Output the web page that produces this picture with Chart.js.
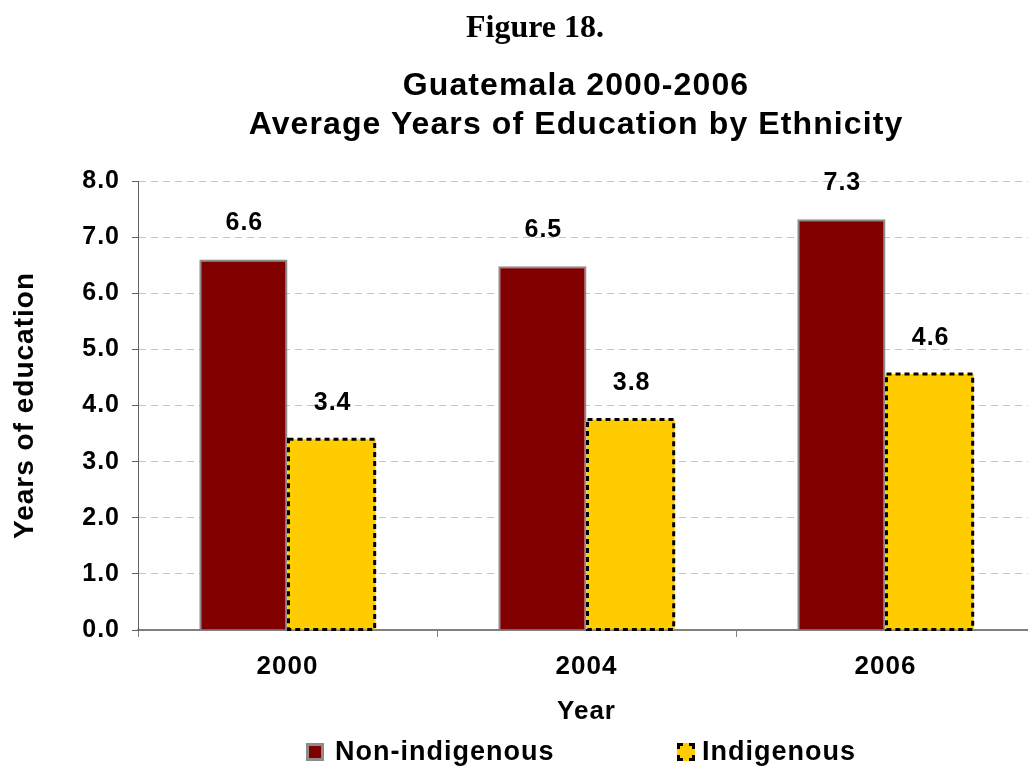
<!DOCTYPE html>
<html>
<head>
<meta charset="utf-8">
<script src="https://cdn.jsdelivr.net/npm/chart.js@4.4.1/dist/chart.umd.min.js"></script>
<style>
  html, body { margin: 0; padding: 0; background: #fff; overflow: hidden; }
  .wrap { position: relative; width: 1028px; height: 767px; overflow: hidden; }
  .wrap canvas { position: absolute; left: 0; top: 0; }
  .fig { position: absolute; left: 0; width: 1070px; top: 8px; text-align: center;
         font: bold 32px "Liberation Serif", "Times New Roman", serif; color: #000; line-height: 36px; }
  .ttl { position: absolute; left: 0; width: 1152px; text-align: center; line-height: 34px;
         font: bold 32px "Liberation Sans", Arial, sans-serif; letter-spacing: 1.1px; color: #000; }
  .leg { position: absolute; top: 736px; height: 30px; line-height: 30px;
         font: bold 27px "Liberation Sans", Arial, sans-serif; letter-spacing: 1px; color: #000; }
  .leg i { position: absolute; top: 7px; width: 12px; height: 12px; box-sizing: content-box; }
  .leg span { position: absolute; white-space: nowrap; }
</style>
</head>
<body>
<div class="wrap">
  <canvas id="eduChart"></canvas>
  <div class="fig">Figure 18.</div>
  <div class="ttl" style="top:66px">Guatemala 2000-2006</div>
  <div class="ttl" style="top:105px">Average Years of Education by Ethnicity</div>
  <div class="leg" style="left:306px">
    <i style="left:0; background:#800000; border:3px solid #8c8c8c;"></i>
    <span style="left:29px">Non-indigenous</span>
  </div>
  <div class="leg" style="left:677px">
    <i style="left:0; background:#FFCC00; border:3px dashed #000;"></i>
    <span style="left:25px">Indigenous</span>
  </div>
</div>
<script>
// data
const years = ["2000", "2004", "2006"];
const seriesNames = ["Non-indigenous", "Indigenous"];
const nonIndigenous = [6.6, 6.48, 7.32];
const indigenous = [3.4, 3.75, 4.56];
const yTicks = [0, 1, 2, 3, 4, 5, 6, 7, 8];

const FONT = '"Liberation Sans", Arial, sans-serif';

// the original text is spaced out a little
const spacing = {
  id: "spacing",
  beforeUpdate(chart) { chart.ctx.letterSpacing = "1px"; },
  beforeDraw(chart) { chart.ctx.letterSpacing = "1px"; },
};

// dashed outline for the yellow bars + value labels on top
const barExtras = {
  id: "barExtras",
  afterDatasetsDraw(chart) {
    const ctx = chart.ctx;
    ctx.save();
    ctx.strokeStyle = "#000";
    ctx.lineWidth = 3;
    ctx.setLineDash([5, 4]);
    chart.getDatasetMeta(1).data.forEach((bar) => {
      const p = bar.getProps(["x", "y", "base", "width"], true);
      ctx.strokeRect(p.x - p.width / 2 + 1, p.y, p.width - 2, p.base - p.y);
    });
    ctx.setLineDash([]);
    ctx.fillStyle = "#000";
    ctx.font = "bold 25px " + FONT;
    ctx.textAlign = "center";
    ctx.textBaseline = "middle";
    chart.data.datasets.forEach((ds, i) => {
      chart.getDatasetMeta(i).data.forEach((bar, j) => {
        const p = bar.getProps(["x", "y"], true);
        ctx.fillText(ds.data[j].toFixed(1), p.x + 1, p.y - 36);
      });
    });
    ctx.restore();
  },
};

const canvas = document.getElementById("eduChart");
canvas.width = 1040;
canvas.height = 767;
canvas.style.width = "1040px";
canvas.style.height = "767px";

new Chart(canvas, {
  type: "bar",
  data: {
    labels: years,
    datasets: [
      {
        label: seriesNames[0],
        data: nonIndigenous,
        backgroundColor: "#800000",
        borderColor: "#8c8c8c",
        borderWidth: 2,
        borderSkipped: "bottom",
        categoryPercentage: 0.59,
        barPercentage: 1.0,
      },
      {
        label: seriesNames[1],
        data: indigenous,
        backgroundColor: "#FFCC00",
        borderWidth: 0,
        categoryPercentage: 0.59,
        barPercentage: 1.0,
      },
    ],
  },
  options: {
    responsive: false,
    animation: false,
    layout: { padding: { top: 181, left: 8, right: 5, bottom: 37 } },
    plugins: {
      title: { display: false },
      tooltip: { enabled: false },
      legend: { display: false },
    },
    scales: {
      x: {
        offset: true,
        afterFit(scale) { scale.height = 100; },
        grid: {
          offset: true,
          drawOnChartArea: false,
          drawTicks: true,
          tickLength: 7,
          color: "#808080",
        },
        border: { color: "#808080", width: 2 },
        ticks: {
          color: "#000",
          padding: 14,
          font: { family: FONT, size: 26, weight: "bold" },
        },
        title: {
          display: true,
          text: "Year",
          color: "#000",
          padding: { top: 0, bottom: 3 },
          font: { family: FONT, size: 26, weight: "bold" },
        },
      },
      y: {
        min: 0,
        max: 8,
        afterFit(scale) { scale.width = 130; },
        afterBuildTicks(axis) {
          axis.ticks = yTicks.map((v) => ({ value: v }));
        },
        grid: {
          color: "#c4c4c4",
          tickColor: "#606060",
          tickBorderDash: [],
          tickLength: 6,
          lineWidth: 1,
        },
        border: { color: "#606060", width: 1, dash: [7, 5] },
        ticks: {
          color: "#000",
          padding: 12,
          font: { family: FONT, size: 25, weight: "bold" },
          callback: (v) => Number(v).toFixed(1),
        },
        title: {
          display: true,
          text: "Years of education",
          color: "#000",
          padding: { top: 0, bottom: 0 },
          font: { family: FONT, size: 28, weight: "bold" },
        },
      },
    },
  },
  plugins: [spacing, barExtras],
});
</script>
</body>
</html>
